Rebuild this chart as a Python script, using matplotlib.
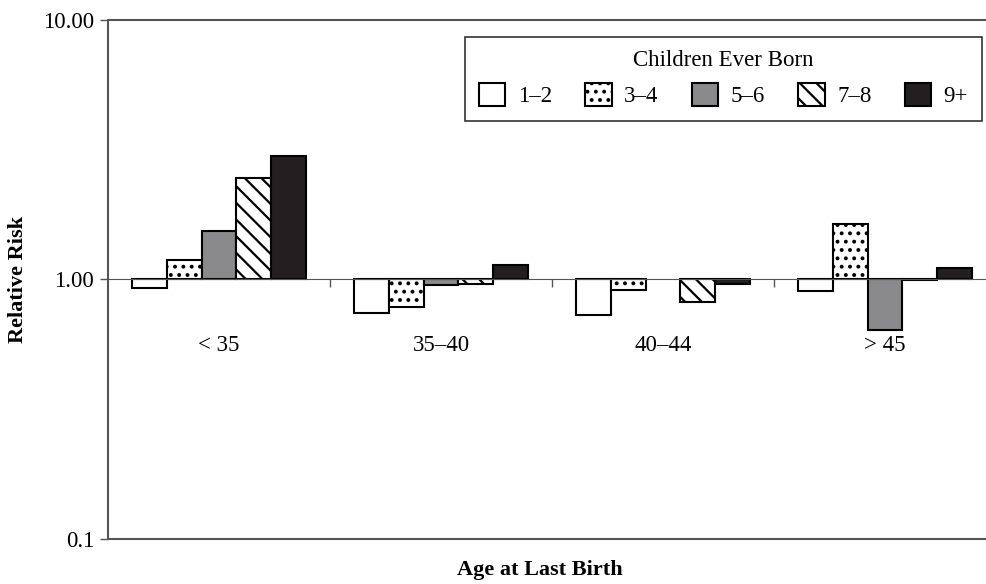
import numpy as np
import matplotlib
matplotlib.use("Agg")
import matplotlib.pyplot as plt

# values (relative risk, log scale around 1.0)
ages = ["< 35", "35\u201340", "40\u201344", "> 45"]
parity = ["1\u20132", "3\u20134", "5\u20136", "7\u20138", "9+"]
rr_1_2 = [0.93, 0.74, 0.73, 0.90]
rr_3_4 = [1.19, 0.78, 0.91, 1.64]
rr_5_6 = [1.53, 0.95, np.nan, 0.64]
rr_7_8 = [2.47, 0.96, 0.82, 0.99]
rr_9p = [3.00, 1.14, 0.96, 1.11]

plt.rcParams["font.family"] = ["Liberation Serif", "DejaVu Serif"]
plt.rcParams["hatch.linewidth"] = 1.6

styles = [
    {"facecolor": "white", "hatch": None},
    {"facecolor": "white", "hatch": ".."},
    {"facecolor": "#8a8a8c", "hatch": None},
    {"facecolor": "white", "hatch": "\\\\"},
    {"facecolor": "#231f20", "hatch": None},
]

fig = plt.figure(figsize=(9.86, 5.84), dpi=100)
ax = fig.add_axes([108 / 986, 45.3 / 584, 888 / 986, 518.7 / 584])

x = np.arange(len(ages))
width = 0.156
series = [rr_1_2, rr_3_4, rr_5_6, rr_7_8, rr_9p]
for i, (vals, lab, st) in enumerate(zip(series, parity, styles)):
    vals = np.array(vals)
    ax.bar(x + (i - 2) * width, vals - 1, width, bottom=1, label=lab,
           edgecolor="black", linewidth=1.5, zorder=3, **st)

ax.set_yscale("log")
ax.set_ylim(0.1, 10)
ax.set_xlim(-0.5, len(ages) - 0.5)
ax.set_yticks([0.1, 1, 10])
ax.set_yticklabels(["0.1", "1.00", "10.00"])
ax.yaxis.set_minor_locator(matplotlib.ticker.NullLocator())
ax.tick_params(axis="y", length=6, width=1, color="#555555", labelsize=16.5, pad=4)

# category axis crosses at 1.0
ax.spines["bottom"].set_position(("data", 1))
ax.spines["bottom"].set_color("#555555")
ax.spines["bottom"].set_zorder(4)
ax.set_xticks(x[:-1] + 0.5)
ax.set_xticklabels([])
ax.tick_params(axis="x", which="major", direction="out", length=6, width=1,
               color="#555555")
ax.set_xticks(x, minor=True)
ax.set_xticklabels(ages, minor=True)
ax.tick_params(axis="x", which="minor", length=0, labelsize=16.5, pad=40)
ax.axhline(0.1, color="#555555", linewidth=1.5, clip_on=False)

for s in ["left", "top"]:
    ax.spines[s].set_color("#555555")
    ax.spines[s].set_linewidth(1.5)
ax.spines["right"].set_visible(False)

leg = ax.legend(title="Children Ever Born", ncol=5, loc="upper right",
                bbox_to_anchor=(0.984, 0.968), borderaxespad=0,
                fontsize=16.5, title_fontsize=16.5,
                handlelength=1.15, handleheight=1.15, handletextpad=0.55,
                columnspacing=1.45, fancybox=False, framealpha=1,
                borderpad=0.6)
leg.get_frame().set_edgecolor("#333333")
leg.get_frame().set_linewidth(1.2)

fig.text(18 / 986, 1 - 279 / 584, "Relative Risk", rotation=90, ha="center",
         va="center", fontsize=16, fontweight="bold")
fig.text(540 / 986, 1 - 570 / 584, "Age at Last Birth", ha="center",
         va="center", fontsize=16, fontweight="bold")

fig.savefig("out.png", dpi=100)
